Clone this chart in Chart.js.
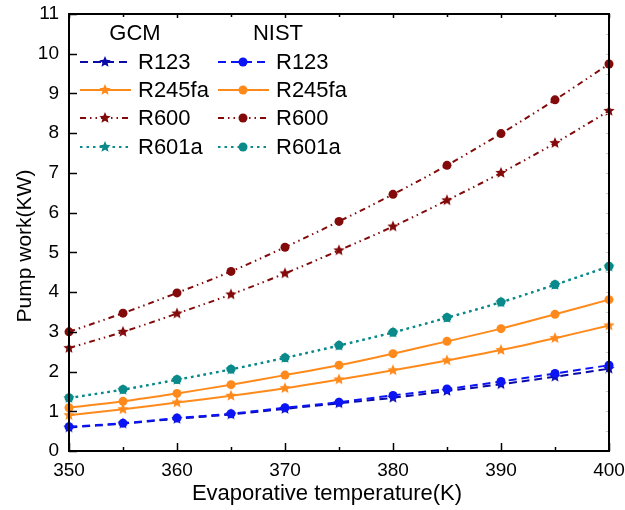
<!DOCTYPE html>
<html>
<head>
<meta charset="utf-8">
<script src="https://cdn.jsdelivr.net/npm/chart.js@4"></script>
<style>
  html, body { margin: 0; padding: 0; background: #fff; }
  #wrap { width: 625px; height: 510px; position: relative; }
</style>
</head>
<body>
<div id="wrap"><canvas id="pumpChart" width="625" height="510"></canvas></div>
<script>
// Evaporative temperature (K)
const temps = [350, 355, 360, 365, 370, 375, 380, 385, 390, 395, 400];

// Pump work (KW)
const r123Gcm = [0.59, 0.69, 0.81, 0.92, 1.06, 1.20, 1.34, 1.51, 1.68, 1.87, 2.07];
const r123Nist = [0.61, 0.70, 0.83, 0.94, 1.09, 1.23, 1.40, 1.56, 1.75, 1.95, 2.16];
const r245faGcm = [0.90, 1.05, 1.22, 1.39, 1.58, 1.80, 2.03, 2.28, 2.54, 2.84, 3.16];
const r245faNist = [1.09, 1.25, 1.45, 1.67, 1.91, 2.16, 2.45, 2.76, 3.08, 3.44, 3.81];
const r600Gcm = [2.59, 3.00, 3.46, 3.94, 4.47, 5.05, 5.65, 6.31, 7.00, 7.75, 8.56];
const r600Nist = [3.00, 3.47, 3.98, 4.52, 5.13, 5.78, 6.46, 7.19, 7.99, 8.84, 9.74];
const r601aGcm = [1.33, 1.54, 1.79, 2.05, 2.34, 2.65, 2.98, 3.35, 3.74, 4.18, 4.64];
const r601aNist = [1.34, 1.55, 1.80, 2.06, 2.35, 2.66, 2.99, 3.36, 3.75, 4.19, 4.65];

const fluids = ['R123', 'R245fa', 'R600', 'R601a'];
const xTicks = [350, 360, 370, 380, 390, 400];
const xTitle = 'Evaporative temperature(K)';
const yTitle = 'Pump work(KW)';

const colors = {
    R123Gcm: '#0a0aa8',
    R123Nist: '#0a14f5',
    R245fa: '#ff8a1c',
    R600: '#820a0a',
    R601a: '#0a8a8a'
};
const dashes = {
    R123: [8, 5],
    R245fa: [],
    R600: [6, 4, 1.5, 4, 1.5, 4],
    R601a: [2.5, 4]
};
const fontFamily = '"Liberation Sans", Arial, sans-serif';

// filled five point star used as marker for the GCM series
function makeStar(color, r) {
    const c = document.createElement('canvas');
    const size = Math.ceil(r * 2 + 2);
    c.width = size;
    c.height = size;
    const g = c.getContext('2d');
    const cx = size / 2, cy = size / 2;
    g.beginPath();
    for (let i = 0; i < 10; i++) {
        const rad = i % 2 === 0 ? r : r * 0.45;
        const a = -Math.PI / 2 + i * Math.PI / 5;
        const px = cx + rad * Math.cos(a);
        const py = cy + rad * Math.sin(a);
        if (i === 0) g.moveTo(px, py); else g.lineTo(px, py);
    }
    g.closePath();
    g.fillStyle = color;
    g.fill();
    return c;
}

const toPoints = (ys) => temps.map((t, i) => ({ x: t, y: ys[i] }));

const makeSet = (label, ys, color, dash, star, group) => ({
    label: label,
    group: group,
    data: toPoints(ys),
    borderColor: color,
    backgroundColor: color,
    borderWidth: 2,
    borderDash: dash,
    tension: 0.35,
    pointStyle: star ? makeStar(color, 6) : 'circle',
    pointRadius: star ? 6 : 4.5,
    pointBackgroundColor: color,
    pointBorderWidth: 0
});

const datasets = [
    makeSet('R601a', r601aGcm, colors.R601a, dashes.R601a, true, 'GCM'),
    makeSet('R601a', r601aNist, colors.R601a, dashes.R601a, false, 'NIST'),
    makeSet('R600', r600Gcm, colors.R600, dashes.R600, true, 'GCM'),
    makeSet('R600', r600Nist, colors.R600, dashes.R600, false, 'NIST'),
    makeSet('R245fa', r245faGcm, colors.R245fa, dashes.R245fa, true, 'GCM'),
    makeSet('R245fa', r245faNist, colors.R245fa, dashes.R245fa, false, 'NIST'),
    makeSet('R123', r123Nist, colors.R123Nist, dashes.R123, false, 'NIST'),
    makeSet('R123', r123Gcm, colors.R123Gcm, dashes.R123, true, 'GCM')
];

// frame, inward ticks, axis titles and the two column legend
const framePlugin = {
    id: 'frame',
    afterDraw(chart) {
        const ctx = chart.ctx;
        const a = chart.chartArea;
        const xs = chart.scales.x;
        const ys = chart.scales.y;
        ctx.save();
        ctx.strokeStyle = '#000';
        ctx.lineWidth = 1.5;
        // major and minor x ticks (bottom inward, top small)
        for (let v = 350; v <= 400; v += 5) {
            const px = Math.round(xs.getPixelForValue(v)) + 0.5;
            const major = v % 10 === 0;
            ctx.beginPath();
            ctx.moveTo(px, a.bottom);
            ctx.lineTo(px, a.bottom - (major ? 8 : 4));
            ctx.stroke();
            ctx.beginPath();
            ctx.moveTo(px, a.top);
            ctx.lineTo(px, a.top + (major ? 4 : 3));
            ctx.stroke();
        }
        // y ticks
        for (let v = 0; v <= 11; v += 0.5) {
            const py = Math.round(ys.getPixelForValue(v)) + 0.5;
            const major = v % 1 === 0;
            if (major) {
                ctx.beginPath();
                ctx.moveTo(a.left, py);
                ctx.lineTo(a.left + 8, py);
                ctx.stroke();
            }
            ctx.save();
            ctx.strokeStyle = '#c8c8c8';
            ctx.lineWidth = 1;
            ctx.beginPath();
            ctx.moveTo(a.right, py);
            ctx.lineTo(a.right - 3, py);
            ctx.stroke();
            ctx.restore();
        }
        // frame
        ctx.lineWidth = 2;
        ctx.strokeRect(a.left, a.top, a.right - a.left, a.bottom - a.top);

        // axis titles
        ctx.fillStyle = '#000';
        ctx.textAlign = 'center';
        ctx.textBaseline = 'middle';
        ctx.font = '22px ' + fontFamily;
        ctx.fillText(xTitle, 327, 494);
        ctx.save();
        ctx.translate(25, 246);
        ctx.rotate(-Math.PI / 2);
        ctx.font = '21px ' + fontFamily;
        ctx.fillText(yTitle, 0, 0);
        ctx.restore();

        // legend
        const cols = [
            { head: 'GCM', group: 'GCM', x0: 80, headX: 135 },
            { head: 'NIST', group: 'NIST', x0: 218, headX: 278 }
        ];
        const rowY = [62, 90, 118, 147];
        ctx.font = '22px ' + fontFamily;
        ctx.fillStyle = '#000';
        ctx.textBaseline = 'middle';
        ctx.textAlign = 'center';
        cols.forEach(col => ctx.fillText(col.head, col.headX, 34));
        ctx.textAlign = 'left';
        cols.forEach(col => {
            fluids.forEach((name, r) => {
                const idx = datasets.findIndex(d => d.label === name && d.group === col.group);
                const ds = datasets[idx];
                const y = rowY[r];
                ctx.save();
                ctx.strokeStyle = ds.borderColor;
                ctx.lineWidth = 2;
                ctx.setLineDash(ds.borderDash);
                ctx.beginPath();
                ctx.moveTo(col.x0, y);
                ctx.lineTo(col.x0 + 51, y);
                ctx.stroke();
                ctx.restore();
                const mx = col.x0 + 25;
                if (ds.pointStyle === 'circle') {
                    ctx.beginPath();
                    ctx.arc(mx, y, 4.5, 0, Math.PI * 2);
                    ctx.fillStyle = ds.borderColor;
                    ctx.fill();
                } else {
                    const img = ds.pointStyle;
                    ctx.drawImage(img, mx - img.width / 2, y - img.height / 2);
                }
                ctx.fillStyle = '#000';
                ctx.fillText(name, col.x0 + 58, y + 1);
            });
        });
        ctx.restore();
    }
};

const ctx = document.getElementById('pumpChart').getContext('2d');
const chart = new Chart(ctx, {
    type: 'line',
    data: { datasets: datasets },
    plugins: [framePlugin],
    options: {
        responsive: false,
        animation: false,
        clip: false,
        layout: { padding: { top: 14, right: 16, left: 0, bottom: 0 } },
        plugins: {
            legend: { display: false },
            tooltip: { enabled: false }
        },
        scales: {
            x: {
                type: 'linear',
                min: 350,
                max: 400,
                afterBuildTicks: (scale) => {
                    scale.ticks = xTicks.map(v => ({ value: v }));
                },
                afterFit: (scale) => {
                    scale.height = 59;
                    scale.paddingLeft = 0;
                    scale.paddingRight = 0;
                },
                grid: { display: false, drawTicks: false },
                border: { display: false },
                ticks: {
                    padding: 8,
                    color: '#000',
                    maxRotation: 0,
                    font: { family: fontFamily, size: 19 }
                }
            },
            y: {
                min: 0,
                max: 11,
                afterFit: (scale) => {
                    scale.width = 69;
                    scale.paddingTop = 0;
                    scale.paddingBottom = 0;
                },
                grid: { display: false, drawTicks: false },
                border: { display: false },
                ticks: {
                    stepSize: 1,
                    padding: 10,
                    color: '#000',
                    font: { family: fontFamily, size: 19 }
                }
            }
        }
    }
});
</script>
</body>
</html>
